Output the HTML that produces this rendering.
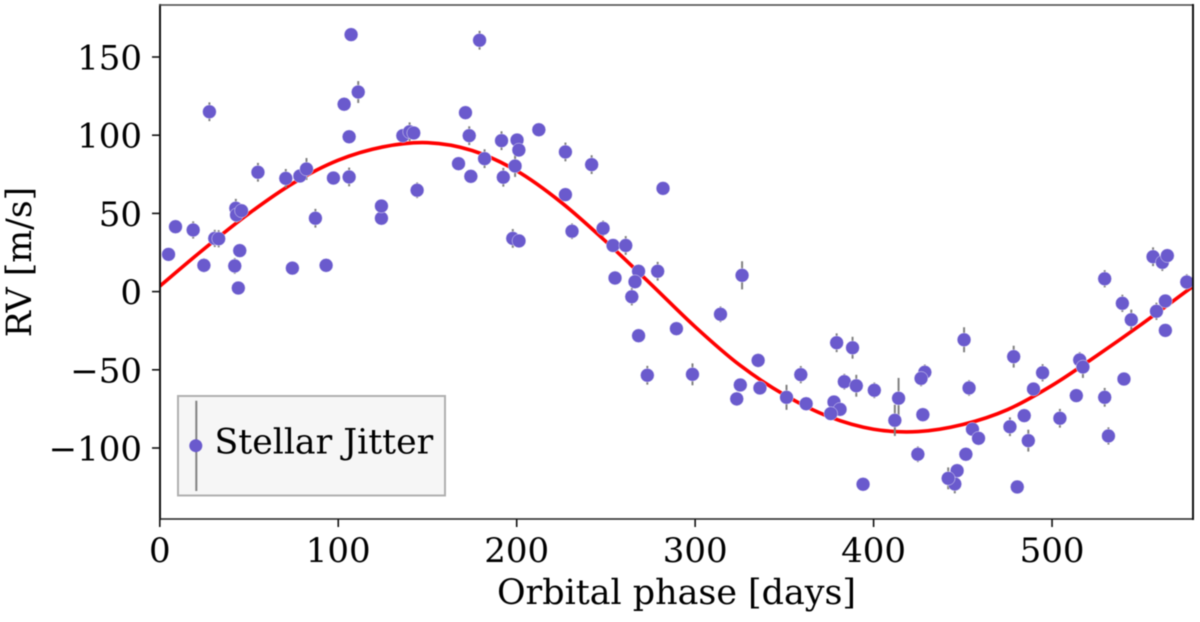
<!DOCTYPE html>
<html lang="en">
<head>
<meta charset="utf-8">
<title>RV phase curve</title>
<style>
html,body{margin:0;padding:0;background:#fff;width:1200px;height:622px;overflow:hidden}
svg{display:block;filter:blur(0.4px)}
text{font-family:"DejaVu Serif","Liberation Serif",serif;fill:#000}
</style>
</head>
<body>
<svg id="chart" width="1200" height="622" viewBox="0 0 1200 622" xmlns="http://www.w3.org/2000/svg">
<defs><clipPath id="plot-clip"><rect x="160" y="5" width="1033" height="514"/></clipPath></defs>
<g id="plot-content" clip-path="url(#plot-clip)"></g>
<g id="axes-layer"></g>
<g>
<rect x="178" y="396" width="267" height="99.5" fill="#f6f6f6" stroke="#b0b0b0" stroke-width="2"/>
<line x1="196.3" x2="196.3" y1="400.7" y2="491" stroke="#808080" stroke-width="2"/>
<circle cx="195.8" cy="445.7" r="6.5" fill="#6a5acd"/>
<text x="214.5" y="453.3" font-size="34.7">Stellar Jitter</text>
</g>
<text x="676.5" y="604" font-size="34.9" text-anchor="middle">Orbital phase [days]</text>
<text transform="translate(31,262) rotate(-90)" font-size="34.7" text-anchor="middle">RV [m/s]</text>
</svg>
<script>
const xTicks = [0, 100, 200, 300, 400, 500];
const yTicks = [-100, -50, 0, 50, 100, 150];
const days = [4.9,8.8,18.7,24.7,27.8,30.8,33,42,42.6,43,45.8,44,44.8,55,70.6,74.3,78.5,82.2,87.2,93.2,97.3,106.1,106.1,103.3,107.2,111.2,124.2,124.2,136.2,140,142.3,144.2,167.4,171.3,173.4,174.3,179.2,182,191.5,192.5,200.2,201.2,199.1,197.8,201.3,212.4,227.3,242,227.3,231,248.4,254,261.1,255.1,268.3,266.3,264.5,279,282,268.3,273.2,289.5,298.5,314.2,326.3,335.3,325.3,323.3,336.3,351.2,359.2,362.2,379.3,377.8,381.2,376,383.6,388.2,390.3,400.4,394.1,414,411.9,428.7,426.6,427.6,424.8,450.7,453.5,455.4,458.8,451.7,446.8,445.5,441.8,478.5,480.5,476.4,484.4,486.7,489.6,494.7,504.4,513.6,515.5,517.3,529.5,531.6,529.5,539.4,540.3,544.4,556.6,558.5,561.8,564.6,563.5,563.5,575.5];
const rv = [23.8,41.5,39.4,16.8,115,34,33.8,16.4,53.3,49,51.7,2.3,26.2,76.3,72.4,15,73.9,78.4,46.9,16.8,72.6,73.3,99,119.8,164.3,127.6,46.9,54.7,99.7,102.2,101.4,64.8,81.8,114.4,99.7,73.7,160.7,85,96.5,73.1,96.9,90.5,80.3,34,32.4,103.5,89.3,81.2,62,38.6,40.4,29.5,29.5,8.7,13,6.3,-3.3,13,66,-28.2,-53.5,-23.7,-52.9,-14.5,10.4,-44,-59.7,-68.6,-61.6,-67.6,-53.1,-71.7,-32.7,-70.6,-75.3,-78,-57.6,-35.9,-60.2,-63.1,-123.2,-68.2,-82.3,-51.6,-55.5,-78.7,-104,-30.8,-61.6,-88,-93.8,-104,-114.5,-123,-119.4,-41.6,-124.9,-86.4,-79.3,-95.3,-62.3,-51.9,-81,-66.5,-43.7,-48.2,-67.6,-92.3,8.2,-7.5,-55.9,-18,22.3,-12.6,18.7,23,-6,-24.8,6.1];
const rvErr = [2,3,5.5,4.5,6,5.5,5.5,5,6,5,3,3,3,6,6,3,3,7,6,3,3,6,3,3,3,7,3,3,3,6,3,5,3,3,6,3,6,6,6,6,3,3,7,6,3,3,6,6,3,5,5,3,6,4.5,3,3,5.5,6,3,3,6,3,7,5,9,4.5,3,4.5,3,8,5.5,3,6,4,3,3,5,7,7,5,3,13,10,5,5,3,5,8,5,3,3,3,3,6,7,7,3,6,3,7,3,5.5,6,3,5,7,6,5.5,5.5,5.5,3,6.5,6,5.5,5.5,3,3,3,5];
const curveDays = [0,25,50,75,100,125,150,175,200,225,250,275,300,325,350,375,400,425,450,475,500,525,550,575,580];
const curveValues = [3.5,27.5,50,69.5,84,92.5,95.2,90.2,77.2,57,32,5,-22.5,-47,-66,-80,-88,-89.5,-85,-75.5,-60,-41,-21,0,4.2];

const NS = 'http://www.w3.org/2000/svg';
const xPos = d => 159.8 + d * 1.7845;
const yPos = v => 291.6 - v * 1.564;
const plot = document.getElementById('plot-content');
const axes = document.getElementById('axes-layer');

function make(tag, attrs, parent) {
  const el = document.createElementNS(NS, tag);
  for (const k in attrs) el.setAttribute(k, attrs[k]);
  parent.appendChild(el);
  return el;
}

// model curve, smoothed through the read-off samples
const cx = curveDays.map(xPos), cy = curveValues.map(yPos);
let curvePath = 'M' + cx[0] + ' ' + cy[0];
for (let i = 0; i < cx.length - 1; i++) {
  const a = Math.max(i - 1, 0), b = Math.min(i + 2, cx.length - 1);
  const c1x = cx[i] + (cx[i + 1] - cx[a]) / 6, c1y = cy[i] + (cy[i + 1] - cy[a]) / 6;
  const c2x = cx[i + 1] - (cx[b] - cx[i]) / 6, c2y = cy[i + 1] - (cy[b] - cy[i]) / 6;
  curvePath += ' C' + c1x + ' ' + c1y + ' ' + c2x + ' ' + c2y + ' ' + cx[i + 1] + ' ' + cy[i + 1];
}
const curve = make('path', {d: curvePath, fill: 'none', stroke: '#ff0000', 'stroke-width': 3.6}, plot);



days.forEach((d, i) => {
  const bar = make('line', {x1: xPos(d), x2: xPos(d), y1: yPos(rv[i] - rvErr[i]), y2: yPos(rv[i] + rvErr[i]), stroke: '#808080', 'stroke-width': 2}, plot);
  
  
});
days.forEach((d, i) => {
  const pt = make('circle', {cx: xPos(d), cy: yPos(rv[i]), r: 6.9, fill: '#6a5acd', stroke: '#ffffff', 'stroke-width': 0.4}, plot);
  
  
});

// spines
const spineLeft = make('line', {x1: 160, x2: 160, y1: 4, y2: 520, stroke: '#111', 'stroke-width': 2}, axes);


const spineBottom = make('line', {x1: 159, x2: 1194, y1: 519, y2: 519, stroke: '#222', 'stroke-width': 1.6}, axes);


const spineTop = make('line', {x1: 159, x2: 1194, y1: 5, y2: 5, stroke: '#444', 'stroke-width': 1.6}, axes);


const spineRight = make('line', {x1: 1193, x2: 1193, y1: 4, y2: 520, stroke: '#111', 'stroke-width': 2}, axes);



xTicks.forEach(t => {
  const mark = make('line', {x1: xPos(t), x2: xPos(t), y1: 519, y2: 527, stroke: '#111', 'stroke-width': 1.6}, axes);
  
  
  const label = make('text', {x: xPos(t), y: 562, 'font-size': 34, 'text-anchor': 'middle'}, axes);
  
  
  label.textContent = String(t);
});
yTicks.forEach(t => {
  const mark = make('line', {x1: 152, x2: 160, y1: yPos(t), y2: yPos(t), stroke: '#111', 'stroke-width': 1.6}, axes);
  
  
  const label = make('text', {x: 142, y: yPos(t) + 12.5, 'font-size': 34, 'text-anchor': 'end'}, axes);
  
  
  label.textContent = String(t).replace('-', '\u2212');
});
</script>
</body>
</html>
